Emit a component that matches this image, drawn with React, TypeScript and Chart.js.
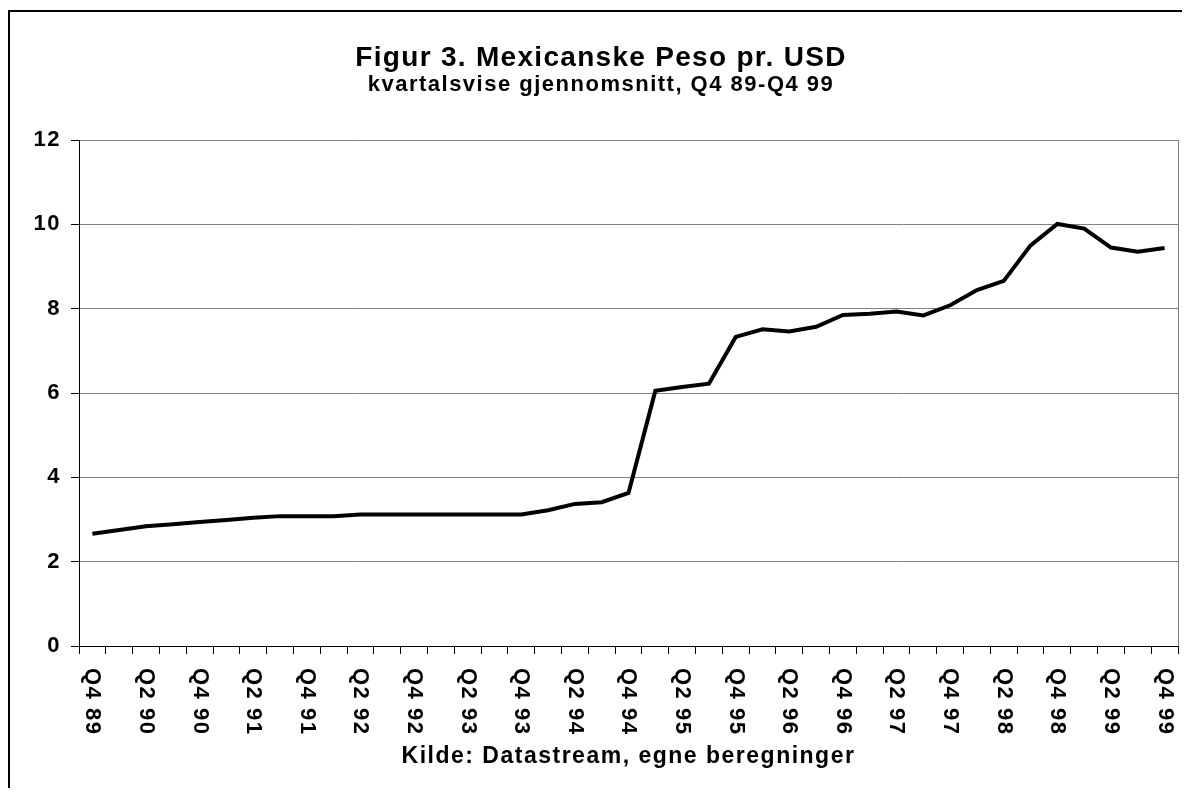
import React, { useEffect, useRef } from 'react';
import { Chart, registerables } from 'chart.js';

Chart.register(...registerables);

const quarters: string[] = [
  'Q4 89',
  'Q1 90', 'Q2 90', 'Q3 90', 'Q4 90',
  'Q1 91', 'Q2 91', 'Q3 91', 'Q4 91',
  'Q1 92', 'Q2 92', 'Q3 92', 'Q4 92',
  'Q1 93', 'Q2 93', 'Q3 93', 'Q4 93',
  'Q1 94', 'Q2 94', 'Q3 94', 'Q4 94',
  'Q1 95', 'Q2 95', 'Q3 95', 'Q4 95',
  'Q1 96', 'Q2 96', 'Q3 96', 'Q4 96',
  'Q1 97', 'Q2 97', 'Q3 97', 'Q4 97',
  'Q1 98', 'Q2 98', 'Q3 98', 'Q4 98',
  'Q1 99', 'Q2 99', 'Q3 99', 'Q4 99',
];

const pesoPerUsd: number[] = [
  2.66,
  2.75, 2.84, 2.89, 2.94,
  2.99, 3.04, 3.08, 3.08,
  3.08, 3.12, 3.12, 3.12,
  3.12, 3.12, 3.12, 3.12,
  3.22, 3.37, 3.41, 3.63,
  6.05, 6.14, 6.22, 7.33,
  7.51, 7.46, 7.57, 7.85,
  7.88, 7.93, 7.84, 8.08,
  8.44, 8.66, 9.5, 10.01,
  9.9, 9.45, 9.35, 9.44,
];

const yMin = 0;
const yMax = 12;
const yStep = 2;

const titleText = 'Figur 3. Mexicanske Peso pr. USD';
const subtitleText = 'kvartalsvise gjennomsnitt, Q4 89-Q4 99';
const sourceText = 'Kilde: Datastream, egne beregninger';

const W = 1182;
const H = 780;
const FONT = '"Liberation Sans", Arial, Helvetica, sans-serif';

export default function App() {
  const ref = useRef<HTMLCanvasElement>(null);

  useEffect(() => {
    if (!ref.current) return;

    const textPlugin = {
      id: 'texts',
      beforeDraw(chart: any) {
        (chart.ctx as any).letterSpacing = '1.5px';
      },
      afterDraw(chart: any) {
        const ctx = chart.ctx as any;
        const area = chart.chartArea;
        const xs = chart.scales.x;
        ctx.save();
        // plot-area border on the right
        ctx.strokeStyle = '#808080';
        ctx.lineWidth = 1;
        ctx.beginPath();
        ctx.moveTo(Math.round(area.right) + 0.5, area.top);
        ctx.lineTo(Math.round(area.right) + 0.5, area.bottom);
        ctx.stroke();

        ctx.fillStyle = '#000';
        ctx.textAlign = 'center';
        ctx.textBaseline = 'alphabetic';

        ctx.letterSpacing = '1.3px';
        ctx.font = `bold 28px ${FONT}`;
        ctx.fillText(titleText, 593, 58);

        ctx.letterSpacing = '1.5px';
        ctx.font = `bold 22px ${FONT}`;
        ctx.fillText(subtitleText, 593, 83);

        ctx.letterSpacing = '1.5px';
        ctx.font = `bold 23px ${FONT}`;
        ctx.fillText(sourceText, (area.left + area.right) / 2, 755);

        // rotated category labels (reading top to bottom)
        ctx.letterSpacing = '1.5px';
        ctx.font = `bold 22px ${FONT}`;
        quarters.forEach((q, i) => {
          if (i % 2 !== 0) return;
          const x = xs.getPixelForValue(i);
          ctx.save();
          ctx.translate(x, area.bottom + 22);
          ctx.rotate(Math.PI / 2);
          ctx.textAlign = 'left';
          ctx.textBaseline = 'middle';
          ctx.fillText(q, 0, 0);
          ctx.restore();
        });
        ctx.restore();
        ctx.letterSpacing = '0px';
      },
    };

    const chart = new Chart(ref.current, {
      type: 'line',
      data: {
        labels: quarters,
        datasets: [
          {
            data: pesoPerUsd,
            borderColor: '#000',
            borderWidth: 4,
            pointRadius: 0,
            tension: 0,
            fill: false,
          },
        ],
      },
      options: {
        animation: false,
        responsive: false,
        maintainAspectRatio: false,
        devicePixelRatio: 1,
        layout: { padding: { top: 132, right: 12, left: 0, bottom: 0 } },
        plugins: {
          legend: { display: false },
          tooltip: { enabled: false },
          title: { display: false },
        },
        scales: {
          x: {
            type: 'category',
            offset: true,
            grid: {
              offset: true,
              drawOnChartArea: false,
              tickLength: 8,
              tickColor: '#000',
              lineWidth: 1,
            },
            border: { color: '#000', width: 1 },
            ticks: { display: false, autoSkip: false },
            afterFit(s: any) {
              s.height = 142;
            },
          },
          y: {
            min: yMin,
            max: yMax,
            ticks: {
              stepSize: yStep,
              padding: 10,
              color: '#000',
              font: { family: FONT, size: 22, weight: 'bold' },
            },
            grid: { color: '#808080', tickColor: '#000', tickLength: 8, lineWidth: 1 },
            border: { color: '#000', width: 1 },
            afterFit(s: any) {
              s.width = 71;
            },
          },
        },
      },
      plugins: [textPlugin],
    } as any);

    return () => chart.destroy();
  }, []);

  return (
    <div style={{ position: 'relative', width: W, height: H, overflow: 'hidden' }}>
      <div
        style={{
          position: 'absolute',
          left: 0,
          top: 2,
          width: 1300,
          height: 900,
          border: '2px solid #000',
          boxSizing: 'border-box',
        }}
      />
      <canvas
        ref={ref}
        width={W}
        height={H}
        style={{ position: 'absolute', left: 0, top: 0, width: W, height: H, display: 'block' }}
      />
    </div>
  );
}
